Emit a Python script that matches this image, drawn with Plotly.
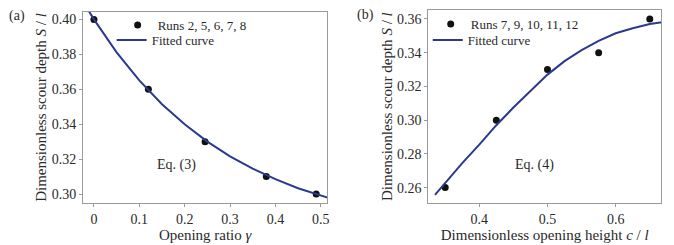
import plotly.graph_objects as go

# Panel (a) data
gamma_runs = [0.0, 0.12, 0.245, 0.38, 0.49]
depth_a = [0.40, 0.36, 0.33, 0.31, 0.30]
gamma_fit = [-0.02, 0.0, 0.05, 0.10, 0.15, 0.20, 0.25, 0.30, 0.35, 0.40, 0.45, 0.50, 0.53]
depth_fit_a = [0.4084, 0.4000, 0.3811, 0.3651, 0.3514, 0.3399, 0.3300, 0.3216, 0.3145,
               0.3085, 0.3033, 0.2990, 0.2967]

# Panel (b) data
height_runs = [0.35, 0.425, 0.50, 0.575, 0.65]
depth_b = [0.26, 0.30, 0.33, 0.34, 0.36]
height_fit = [0.335, 0.35, 0.375, 0.40, 0.425, 0.45, 0.475, 0.50, 0.525, 0.55, 0.575,
              0.60, 0.625, 0.65, 0.668]
depth_fit_b = [0.2557, 0.2630, 0.2745, 0.2855, 0.2970, 0.3075, 0.3175, 0.3270, 0.3350,
               0.3415, 0.3470, 0.3515, 0.3545, 0.3570, 0.3580]

FONT = "Liberation Serif"
TXT = "#2a2a2a"
CURVE = "#2b3a8c"
W, H = 674, 245

fig = go.Figure()
fig.add_trace(go.Scatter(x=gamma_runs, y=depth_a, mode="markers", name="Runs 2, 5, 6, 7, 8",
                         marker=dict(color="#111111", size=7), xaxis="x", yaxis="y", legend="legend",
                         showlegend=True))
fig.add_trace(go.Scatter(x=gamma_fit, y=depth_fit_a, mode="lines", name="Fitted curve",
                         line=dict(color=CURVE, width=2), xaxis="x", yaxis="y", legend="legend2",
                         showlegend=True))
fig.add_trace(go.Scatter(x=height_runs, y=depth_b, mode="markers", name="Runs 7, 9, 10, 11, 12",
                         marker=dict(color="#111111", size=7), xaxis="x2", yaxis="y2", legend="legend3",
                         showlegend=True))
fig.add_trace(go.Scatter(x=height_fit, y=depth_fit_b, mode="lines", name="Fitted curve",
                         line=dict(color=CURVE, width=2), xaxis="x2", yaxis="y2", legend="legend4",
                         showlegend=True))


def px_x(p):
    return p / W


def px_y(p):
    return 1 - p / H


axis_common = dict(showline=True, linecolor="#9a9a9a", linewidth=1, mirror=True,
                   ticks="outside", ticklen=3, tickcolor="#9a9a9a", showgrid=False,
                   zeroline=False, tickfont=dict(family=FONT, size=14, color=TXT),
                   title_font=dict(family=FONT, size=15, color=TXT))


def leg(xp, yp):
    return dict(x=px_x(xp), y=px_y(yp), xanchor="left", yanchor="top", bgcolor="rgba(0,0,0,0)",
                font=dict(family=FONT, size=13, color=TXT))


def ann(text, xp, yp, size=14):
    return dict(text=text, x=px_x(xp), y=px_y(yp), xref="paper", yref="paper", showarrow=False,
                xanchor="center", yanchor="middle", font=dict(family=FONT, size=size, color=TXT))


fig.update_layout(
    width=W, height=H, margin=dict(l=0, r=0, t=0, b=0),
    paper_bgcolor="white", plot_bgcolor="white", showlegend=True,
    font=dict(family=FONT, color=TXT),
    xaxis=dict(domain=[px_x(83.3), px_x(328.3)], range=[-0.024, 0.5145], anchor="y",
               dtick=0.1, tick0=0, title=dict(text="Opening ratio <i>γ</i>", standoff=0), **axis_common),
    yaxis=dict(domain=[px_y(203.3), px_y(11.7)], range=[0.2947, 0.4044], anchor="x",
               dtick=0.02, tick0=0.3, tickformat=".2f",
               title=dict(text="Dimensionless scour depth <i>S</i> / <i>l</i>", standoff=1), **axis_common),
    xaxis2=dict(domain=[px_x(429.7), px_x(663.0)], range=[0.3254, 0.6665], anchor="y2",
                dtick=0.1, tick0=0.4,
                title=dict(text="Dimensionless opening height <i>c</i> / <i>l</i>", standoff=0), **axis_common),
    yaxis2=dict(domain=[px_y(203.3), px_y(10)], range=[0.2507, 0.3653], anchor="x2",
                dtick=0.02, tick0=0.26, tickformat=".2f",
                title=dict(text="Dimensionless scour depth <i>S</i> / <i>l</i>", standoff=0), **axis_common),
    legend=leg(118, 10),
    legend2=leg(112, 25),
    legend3=leg(432, 9),
    legend4=leg(429, 25),
    annotations=[
        ann("(a)", 17, 16),
        ann("(b)", 367, 15),
        ann("Eq. (3)", 177, 165),
        ann("Eq. (4)", 536, 165),
    ],
)

fig.write_html("out.html", config={"displayModeBar": False},
               post_script="document.body.style.margin='0';document.body.style.overflow='hidden';")
